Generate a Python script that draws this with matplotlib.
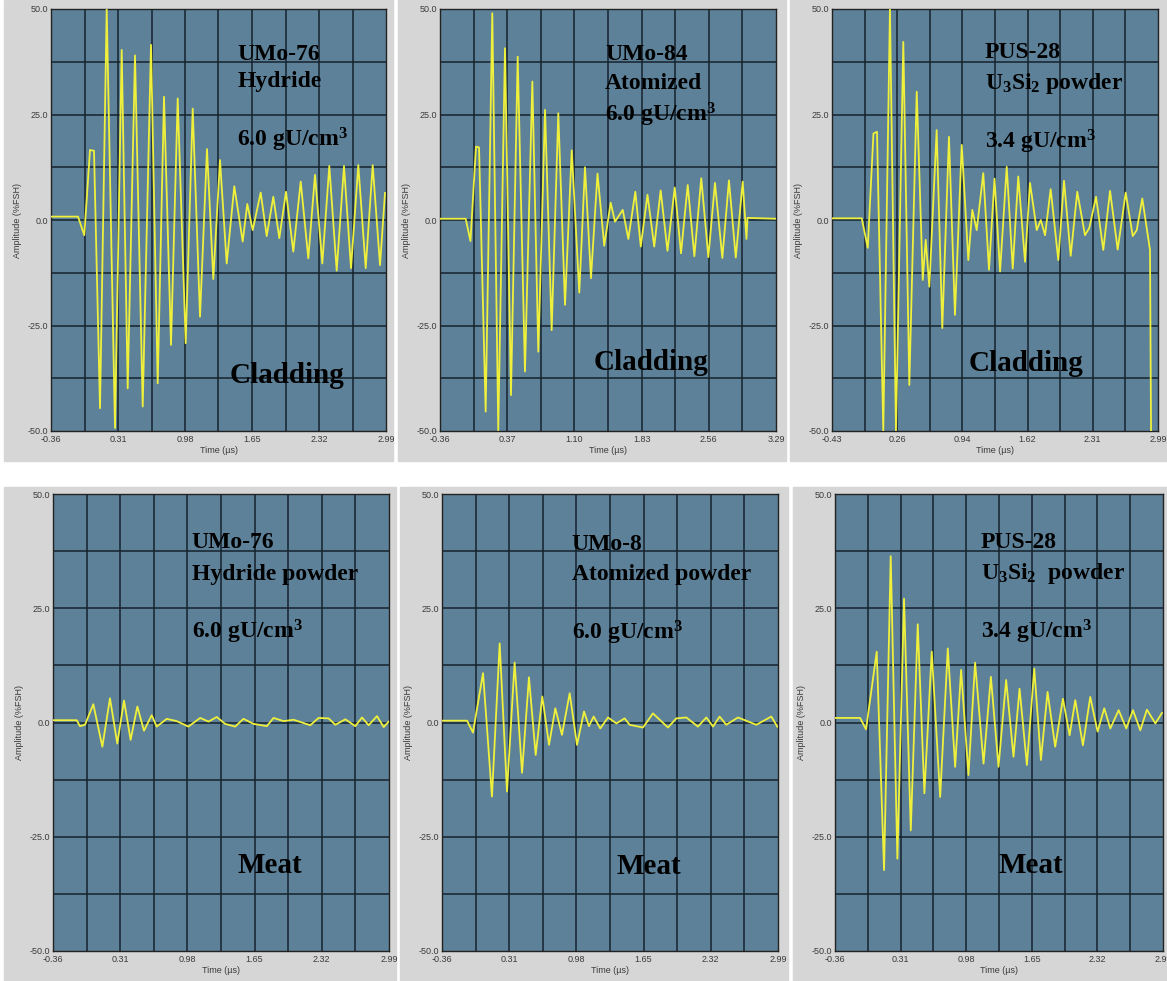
import matplotlib
matplotlib.use("Agg")
import matplotlib.pyplot as plt
from matplotlib.patches import Rectangle

plt.rcParams['font.family'] = ['Liberation Sans', 'DejaVu Sans']
plt.rcParams['mathtext.fontset'] = 'custom'
plt.rcParams['mathtext.rm'] = 'Liberation Serif:bold'
plt.rcParams['mathtext.it'] = 'Liberation Serif:bold'
plt.rcParams['mathtext.bf'] = 'Liberation Serif:bold'

# ---- waveform extrema (time us, amplitude %FSH) ----
t1 = [-0.36, -0.09, -0.027, 0.03, 0.07, 0.13, 0.197, 0.28, 0.347, 0.407, 0.48, 0.557, 0.64,
      0.707, 0.77, 0.84, 0.907, 0.987, 1.057, 1.13, 1.20, 1.263, 1.33, 1.397, 1.473, 1.557,
      1.603, 1.657, 1.737, 1.797, 1.863, 1.923, 1.99, 2.063, 2.137, 2.213, 2.28, 2.353, 2.423,
      2.497, 2.57, 2.64, 2.713, 2.787, 2.857, 2.93, 2.98]
a1 = [0.8, 0.8, -3.6, 16.6, 16.4, -44.6, 50.0, -49.3, 40.3, -39.9, 39.0, -44.2, 41.5,
      -38.7, 29.2, -29.6, 28.8, -29.2, 26.4, -22.9, 16.8, -14.0, 14.2, -10.3, 8.0, -5.1,
      3.8, -2.4, 6.5, -3.8, 5.5, -4.3, 6.7, -7.5, 9.1, -9.1, 10.7, -10.3, 12.8,
      -12.0, 12.8, -11.4, 13.0, -11.4, 13.0, -10.7, 6.4]

t2 = [-0.36, -0.081, -0.029, 0.031, 0.064, 0.136, 0.208, 0.273, 0.346, 0.411, 0.484, 0.563,
      0.643, 0.708, 0.781, 0.853, 0.925, 0.998, 1.071, 1.153, 1.215, 1.280, 1.351, 1.424,
      1.494, 1.541, 1.625, 1.686, 1.762, 1.821, 1.894, 1.967, 2.037, 2.111, 2.190, 2.258,
      2.331, 2.403, 2.478, 2.555, 2.627, 2.707, 2.779, 2.853, 2.928, 2.969, 2.980, 3.29]
a2 = [0.3, 0.3, -5.0, 17.4, 17.2, -45.4, 49.0, -49.8, 40.7, -41.5, 38.7, -35.9,
      32.8, -31.2, 26.1, -26.1, 25.3, -20.1, 16.5, -17.2, 12.5, -13.8, 11.0, -6.1,
      4.1, -0.4, 2.4, -4.5, 6.7, -6.3, 6.0, -6.3, 7.0, -7.3, 7.7, -7.9,
      8.3, -8.6, 9.9, -8.8, 8.8, -9.0, 9.4, -8.9, 9.1, -4.5, 0.5, 0.3]

t3 = [-0.43, -0.118, -0.055, 0.005, 0.042, 0.108, 0.178, 0.241, 0.318, 0.381, 0.459, 0.522,
      0.553, 0.591, 0.668, 0.727, 0.797, 0.860, 0.931, 1.000, 1.042, 1.088, 1.157, 1.217,
      1.275, 1.333, 1.403, 1.466, 1.524, 1.595, 1.647, 1.718, 1.760, 1.805, 1.864, 1.944,
      2.004, 2.074, 2.143, 2.224, 2.269, 2.340, 2.416, 2.487, 2.567, 2.651, 2.725, 2.767,
      2.825, 2.906, 2.917]
a3 = [0.4, 0.4, -6.6, 20.5, 20.9, -50.0, 50.0, -50.0, 42.2, -39.1, 30.4, -14.2,
      -4.7, -15.8, 21.3, -25.6, 19.7, -22.5, 17.8, -9.5, 2.4, -2.4, 11.1, -11.8,
      9.8, -12.2, 12.6, -11.5, 10.3, -9.9, 8.8, -2.4, 0.0, -3.6, 7.3, -9.5,
      9.3, -8.5, 6.7, -3.6, -1.9, 5.5, -7.1, 6.9, -7.0, 6.5, -3.8, -2.4,
      5.1, -7.1, -50.0]

t4 = [-0.357, -0.124, -0.091, -0.041, 0.042, 0.132, 0.208, 0.281, 0.348, 0.414, 0.481, 0.547,
      0.624, 0.674, 0.774, 0.874, 0.990, 1.107, 1.190, 1.273, 1.356, 1.456, 1.539, 1.639,
      1.772, 1.839, 1.939, 2.039, 2.205, 2.288, 2.388, 2.455, 2.555, 2.654, 2.721, 2.787,
      2.870, 2.937, 2.987]
a4 = [0.5, 0.5, -0.8, -0.5, 4.0, -5.3, 5.3, -4.6, 4.8, -3.8, 3.5, -1.8,
      1.6, -0.9, 0.8, 0.3, -0.9, 1.0, 0.2, 1.2, -0.3, -0.9, 0.8, -0.3,
      -0.8, 1.0, 0.3, 0.6, -0.6, 1.0, 0.9, -0.5, 0.7, -0.8, 1.1, -0.6,
      1.4, -1.0, 0.2]

t5 = [-0.36, -0.111, -0.051, 0.049, 0.138, 0.215, 0.288, 0.364, 0.438, 0.507, 0.574, 0.640,
      0.707, 0.770, 0.836, 0.913, 0.986, 1.056, 1.105, 1.152, 1.218, 1.295, 1.379, 1.461,
      1.511, 1.644, 1.743, 1.893, 1.976, 2.076, 2.192, 2.275, 2.342, 2.408, 2.474, 2.591,
      2.774, 2.923, 2.983]
a5 = [0.4, 0.4, -2.2, 10.8, -16.2, 17.3, -15.1, 13.1, -11.0, 9.9, -7.1, 5.7,
      -4.9, 3.1, -2.7, 6.4, -4.9, 2.4, -0.8, 1.3, -1.3, 1.1, -0.2, 0.9,
      -0.5, -1.1, 2.0, -1.1, 0.9, 1.1, -0.9, 1.1, -0.9, 1.3, -0.5, 1.1,
      -0.5, 1.3, -0.9]

t6 = [-0.36, -0.104, -0.043, 0.066, 0.141, 0.209, 0.277, 0.345, 0.414, 0.485, 0.553, 0.628,
      0.714, 0.792, 0.867, 0.928, 1.003, 1.071, 1.157, 1.232, 1.310, 1.388, 1.463, 1.525,
      1.600, 1.675, 1.743, 1.811, 1.889, 1.968, 2.036, 2.094, 2.172, 2.247, 2.322, 2.390,
      2.452, 2.537, 2.615, 2.683, 2.758, 2.826, 2.912, 2.980]
a6 = [1.0, 1.0, -1.5, 15.5, -32.3, 36.4, -29.8, 27.1, -23.6, 21.5, -15.5, 15.5,
      -16.3, 16.2, -9.7, 11.5, -11.5, 13.1, -9.0, 10.0, -9.7, 9.3, -7.5, 7.4,
      -9.3, 11.8, -8.2, 6.7, -5.3, 5.2, -2.8, 4.9, -5.0, 5.6, -2.0, 3.1,
      -1.3, 2.7, -1.3, 2.7, -1.7, 2.8, -0.2, 2.1]

xticks_a = ['-0.36', '0.31', '0.98', '1.65', '2.32', '2.99']
xticks_b = ['-0.36', '0.37', '1.10', '1.83', '2.56', '3.29']
xticks_c = ['-0.43', '0.26', '0.94', '1.62', '2.31', '2.99']
yticks = ['-50.0', '-25.0', '0.0', '25.0', '50.0']

labels1 = ['UMo-76', 'Hydride', '6.0 gU/cm$^3$', 'Cladding']
labels2 = ['UMo-84', 'Atomized', '6.0 gU/cm$^3$', 'Cladding']
labels3 = ['PUS-28', 'U$_3$Si$_2$ powder', '3.4 gU/cm$^3$', 'Cladding']
labels4 = ['UMo-76', 'Hydride powder', '6.0 gU/cm$^3$', 'Meat']
labels5 = ['UMo-8', 'Atomized powder', '6.0 gU/cm$^3$', 'Meat']
labels6 = ['PUS-28', 'U$_3$Si$_2$  powder', '3.4 gU/cm$^3$', 'Meat']

FACE = '#5d8199'
GRIDC = '#16222c'
WAVE = '#eef03c'
WIN = '#d6d6d6'

fig = plt.figure(figsize=(11.67, 9.81), dpi=100)
W, H = 1167.0, 981.0

# gray window backgrounds behind each screenshot (pixel boxes x0, y0, x1, y1)
for x0, y0, x1, y1 in [(4, 0, 393, 461), (398, 0, 786, 461), (790, 0, 1167, 461),
                       (4, 487, 396, 981), (400, 487, 788, 981), (793, 487, 1167, 981)]:
    fig.patches.append(Rectangle((x0 / W, 1 - y1 / H), (x1 - x0) / W, (y1 - y0) / H,
                                 transform=fig.transFigure, color=WIN, zorder=-5))


def panel(box, t, a, xlabels, texts, tpos):
    x0, y0, x1, y1 = box
    ax = fig.add_axes([x0 / W, 1 - y1 / H, (x1 - x0) / W, (y1 - y0) / H], zorder=2)
    ax.set_facecolor(FACE)
    lo, hi = float(xlabels[0]), float(xlabels[-1])
    ax.set_xlim(lo, hi)
    ax.set_ylim(-50, 50)
    step = (hi - lo) / 10
    for i in range(1, 10):
        ax.axvline(lo + i * step, color=GRIDC, lw=1.1, zorder=1)
    for i in range(1, 8):
        ax.axhline(-50 + i * 12.5, color=GRIDC, lw=1.1, zorder=1)
    ax.plot(t, a, color=WAVE, lw=1.3, zorder=3, solid_joinstyle='round')
    ax.set_xticks([lo + 2 * i * step for i in range(6)])
    ax.set_xticklabels(xlabels)
    ax.set_yticks([-50, -25, 0, 25, 50])
    ax.set_yticklabels(yticks)
    ax.tick_params(length=0, labelsize=6.5, colors='#3a3a3a', pad=2)
    ax.tick_params(axis='x', pad=3)
    ax.set_xlabel('Time (µs)', fontsize=6.5, color='#3a3a3a', labelpad=1)
    ax.set_ylabel('Amplitude (%FSH)', fontsize=6.5, color='#3a3a3a', labelpad=4)
    for s in ax.spines.values():
        s.set_color('#222222')
        s.set_linewidth(1.0)
    tx, ty = tpos
    for txt, yy in zip(texts[:3], ty[:3]):
        ax.text(tx[0], yy, txt, transform=ax.transAxes, family='Liberation Serif',
                weight='bold', fontsize=17, va='baseline', zorder=5)
    ax.text(tx[1], ty[3], texts[3], transform=ax.transAxes, family='Liberation Serif',
            weight='bold', fontsize=21, va='baseline', zorder=5)
    return ax


panel((51, 9, 386, 431), t1, a1, xticks_a, labels1, ((0.556, 0.534), (0.879, 0.814, 0.675, 0.114)))
panel((440, 9, 776, 431), t2, a2, xticks_b, labels2, ((0.491, 0.456), (0.879, 0.810, 0.733, 0.145)))
panel((832, 9, 1158, 431), t3, a3, xticks_c, labels3, ((0.469, 0.418), (0.883, 0.810, 0.670, 0.143)))
panel((53, 494, 389, 951), t4, a4, xticks_a, labels4, ((0.413, 0.549), (0.881, 0.812, 0.684, 0.170)))
panel((442, 494, 778, 951), t5, a5, xticks_a, labels5, ((0.386, 0.518), (0.877, 0.812, 0.682, 0.168)))
panel((835, 494, 1163, 951), t6, a6, xticks_a, labels6, ((0.444, 0.498), (0.882, 0.814, 0.684, 0.170)))

fig.savefig('out.png', dpi=100, facecolor='white')
